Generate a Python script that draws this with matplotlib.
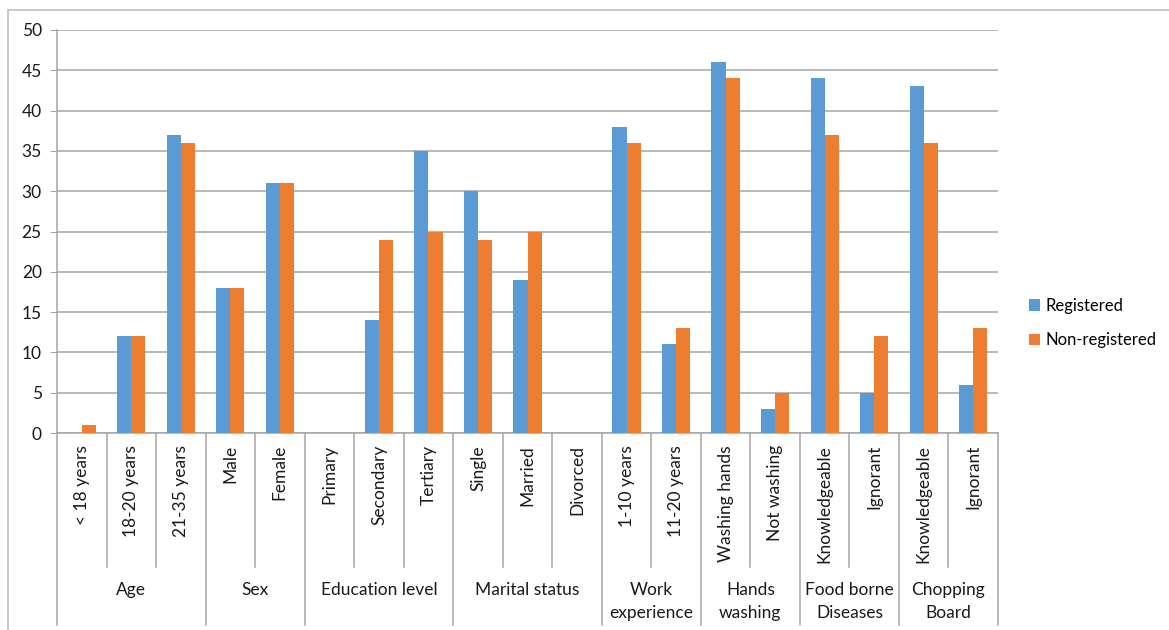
import numpy as np
import matplotlib.pyplot as plt
from matplotlib.patches import Rectangle
from matplotlib.transforms import blended_transform_factory

plt.rcParams['font.family'] = ['Lato', 'DejaVu Sans']

# data
categories = ['< 18 years', '18-20 years', '21-35 years', 'Male', 'Female',
              'Primary', 'Secondary', 'Tertiary', 'Single', 'Married', 'Divorced',
              '1-10 years', '11-20 years', 'Washing hands', 'Not washing',
              'Knowledgeable', 'Ignorant', 'Knowledgeable', 'Ignorant']
registered = [0, 12, 37, 18, 31, 0, 14, 35, 30, 19, 0, 38, 11, 46, 3, 44, 5, 43, 6]
non_registered = [1, 12, 36, 18, 31, 0, 24, 25, 24, 25, 0, 36, 13, 44, 5, 37, 12, 36, 13]
groups = ['Age', 'Sex', 'Education level', 'Marital status', 'Work\nexperience',
          'Hands\nwashing', 'Food borne\nDiseases', 'Chopping\nBoard']
group_sizes = [3, 2, 3, 3, 2, 2, 2, 2]

blue = '#5B9BD5'
orange = '#ED7D31'
grid_c = '#A6A6A6'
txt_c = '#1a1a1a'
fs = 12.5

fig = plt.figure(figsize=(11.69, 6.30), dpi=100)
ax = fig.add_axes([57/1169, 1-433/630, (998-57)/1169, (433-30)/630])

# outer chart border
fig.patches.append(Rectangle((8/1169, -0.1), 2, 1.1 - 10/630, transform=fig.transFigure,
                             fill=False, edgecolor='#BFBFBF', lw=1.2))

x = np.arange(len(categories))
w = 0.285
ax.bar(x - w/2, registered, w, color=blue, label='Registered', zorder=3)
ax.bar(x + w/2, non_registered, w, color=orange, label='Non-registered', zorder=3)

ax.set_xlim(-0.5, len(categories) - 0.5)
ax.set_ylim(0, 50)
ax.set_yticks(range(0, 51, 5))
ax.yaxis.grid(True, color=grid_c, lw=1.1, zorder=0)
ax.tick_params(axis='y', length=5, color=grid_c, labelsize=fs, pad=6, labelcolor=txt_c)
ax.tick_params(axis='x', length=0)
ax.set_xticks([])
for s in ['top', 'right']:
    ax.spines[s].set_visible(False)
ax.spines['left'].set_color(grid_c)
ax.spines['bottom'].set_color(grid_c)
ax.spines['left'].set_linewidth(1.1)
ax.spines['bottom'].set_linewidth(1.1)

tr = blended_transform_factory(ax.transData, ax.transAxes)
inner_y = -(567-433)/403
outer_y = -(625-433)/403

# sub-category labels
for i, c in enumerate(categories):
    ax.text(i, -(445-433)/403, c, transform=tr, rotation=90, ha='center', va='top',
            fontsize=fs, color=txt_c)

# separators and group labels
bounds = np.concatenate([[0], np.cumsum(group_sizes)])
for i in range(len(categories) + 1):
    b = i - 0.5
    y1 = outer_y if i in bounds else inner_y
    ax.plot([b, b], [0, y1], transform=tr, color=grid_c, lw=1.1, clip_on=False)
for g, s0, s1 in zip(groups, bounds[:-1], bounds[1:]):
    xc = (s0 + s1 - 1) / 2
    ax.text(xc, -(582-433)/403, g, transform=tr, ha='center', va='top',
            fontsize=fs, color=txt_c, linespacing=1.55)

ax.legend(loc='center left', bbox_to_anchor=((1014-57)/941, (433-323)/403), frameon=False,
          handlelength=0.65, handleheight=0.65, handletextpad=0.35, labelspacing=1.1,
          fontsize=12)

fig.savefig('out.png', dpi=100)
